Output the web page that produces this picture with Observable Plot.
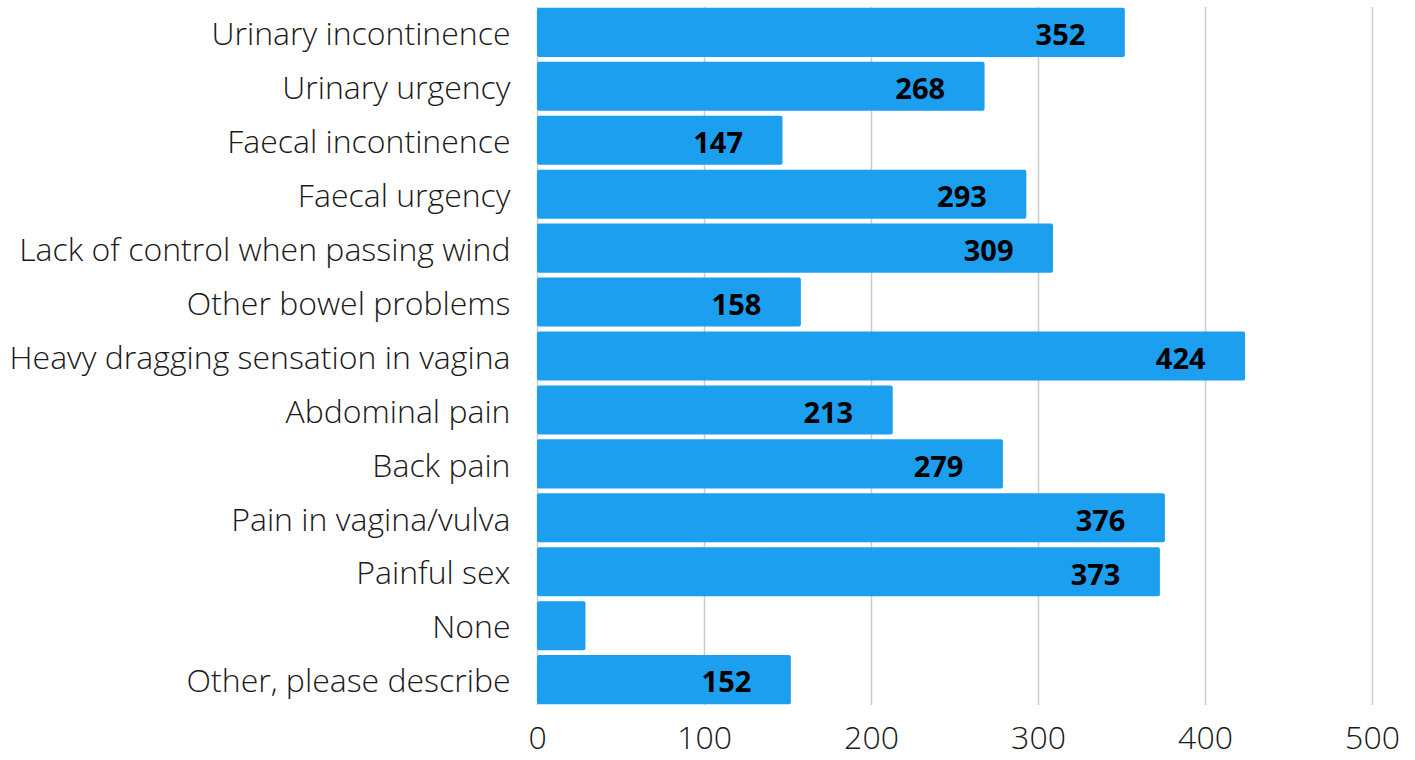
<!DOCTYPE html>
<html>
<head>
<meta charset="utf-8">
<script src="https://cdn.jsdelivr.net/npm/d3@7"></script>
<script src="https://cdn.jsdelivr.net/npm/@observablehq/plot@0.6"></script>
<style>
  html, body { margin: 0; padding: 0; background: #fff; }
  #chart svg { display: block; }
</style>
</head>
<body>
<div id="chart"></div>
<script>
const categories = [
  "Urinary incontinence",
  "Urinary urgency",
  "Faecal incontinence",
  "Faecal urgency",
  "Lack of control when passing wind",
  "Other bowel problems",
  "Heavy dragging sensation in vagina",
  "Abdominal pain",
  "Back pain",
  "Pain in vagina/vulva",
  "Painful sex",
  "None",
  "Other, please describe"
];
const values = [352, 268, 147, 293, 309, 158, 424, 213, 279, 376, 373, 29, 152];
const xTicks = [0, 100, 200, 300, 400, 500];

const data = categories.map((c, i) => ({category: c, value: values[i]}));

const chart = Plot.plot({
  width: 1415,
  height: 760,
  marginLeft: 537,
  marginRight: 43,
  marginTop: 3,
  marginBottom: 51,
  style: {fontFamily: "'Open Sans', sans-serif", fontWeight: 300, fontSize: "32px", color: "#1a1a1a"},
  x: {domain: [0, 500], ticks: xTicks, tickSize: 0, label: null},
  y: {domain: categories, padding: 0.09, round: false, tickSize: 0, label: null},
  marks: [
    Plot.ruleX(xTicks, {stroke: "#cccccc", strokeWidth: 1.5, insetTop: 4, insetBottom: 4}),
    Plot.barX(data, {x: "value", y: "category", fill: "#1d9ff0", rx: 2}),
    Plot.text(data.filter(d => d.value >= 60), {
      x: "value", y: "category", text: d => String(d.value),
      textAnchor: "end", dx: -40, dy: 3,
      fill: "#000", fontWeight: 700, fontSize: 29
    }),
    Plot.axisX({ticks: xTicks, tickSize: 0, tickPadding: 17, fontSize: 32, fontWeight: 300}),
    Plot.axisY({tickSize: 0, tickPadding: 27, dy: 2, fontSize: 32, fontWeight: 300})
  ]
});
document.getElementById("chart").appendChild(chart);
</script>
</body>
</html>
